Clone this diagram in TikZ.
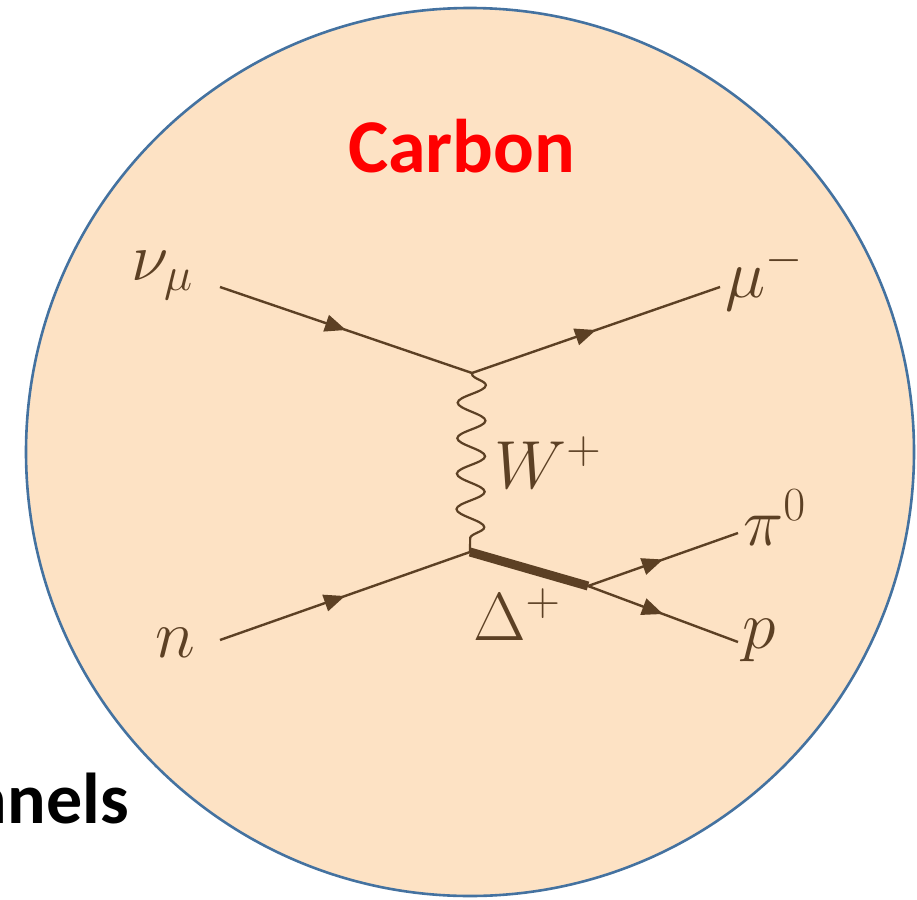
\RequirePackage{fix-cm}
\documentclass[tikz,border=0pt]{standalone}
\usepackage{fontspec}
\setmainfont{Carlito}
\usetikzlibrary{decorations.pathmorphing,decorations.markings,arrows.meta}
\definecolor{fillpeach}{HTML}{FDE2C4}
\definecolor{rim}{HTML}{4472A0}
\definecolor{brownline}{HTML}{5C4024}
\definecolor{titleblue}{HTML}{0530D6}
\tikzset{
  fermion/.style={draw=brownline, line width=2.4pt, postaction={decorate},
    decoration={markings, mark=at position 0.5 with {\arrow[brownline]{Triangle[length=21pt,width=17pt]}}}},
  boson/.style={draw=brownline, line width=2.2pt, decorate,
    decoration={snake, segment length=35.5pt, amplitude=14pt, pre length=1pt, post length=1pt}},
  resonance/.style={draw=brownline, line width=9pt},
  particle/.style={text=brownline, inner sep=0pt, font=\fontsize{68}{80}\selectfont},
  bigbold/.style={inner sep=0pt, font=\fontsize{72}{80}\selectfont\bfseries},
}
\begin{document}
\begin{tikzpicture}[x=1pt,y=-1pt]
\useasboundingbox (0,0) rectangle (917,899);
\begin{scope}
\clip (0,0) rectangle (917,899);
% cut-off title text at the top
\node[bigbold, titleblue, anchor=base west, font=\fontsize{100}{110}\selectfont\bfseries] (title) at (26,-22) {gy};
% nucleus
\fill[fillpeach] (470,452) circle[radius=444];
\draw[rim, line width=2.6pt] (470,452) circle[radius=444];
\node[bigbold, anchor=base east] (channels) at (129,823) {channels};
\node[bigbold, red, anchor=base west, font=\fontsize{76}{80}\selectfont\bfseries] (carbon) at (348,172) {Carbon};
% vertices and ends
\coordinate (v1) at (472,373);
\coordinate (v2) at (470,552);
\coordinate (dv) at (588,586);
\coordinate (nuin) at (220,287);
\coordinate (muout) at (720,287);
\coordinate (nin) at (220,640);
\coordinate (piout) at (738,533);
\coordinate (pout) at (738,642);
% lines
\draw[fermion] (nuin) -- (v1);
\draw[fermion] (v1) -- (muout);
\draw[fermion] (nin) -- (v2);
\draw[boson] (v1) -- (v2);
\draw[resonance] (v2) -- (dv);
\draw[fermion] (dv) -- (piout);
\draw[fermion] (dv) -- (pout);
% labels
\node[particle, anchor=base west] (lnu) at (131,280) {$\nu_\mu$};
\node[particle, anchor=base west] (lmu) at (725,297) {$\mu^-$};
\node[particle, anchor=base west] (lw) at (494,488) {$W^+$};
\node[particle, anchor=base west] (ldelta) at (473,640) {$\Delta^+$};
\node[particle, anchor=base west] (lpi) at (743,545) {$\pi^0$};
\node[particle, anchor=base west] (lp) at (742,648) {$p$};
\node[particle, anchor=base west] (ln) at (155,657) {$n$};
\end{scope}
\end{tikzpicture}
\end{document}
